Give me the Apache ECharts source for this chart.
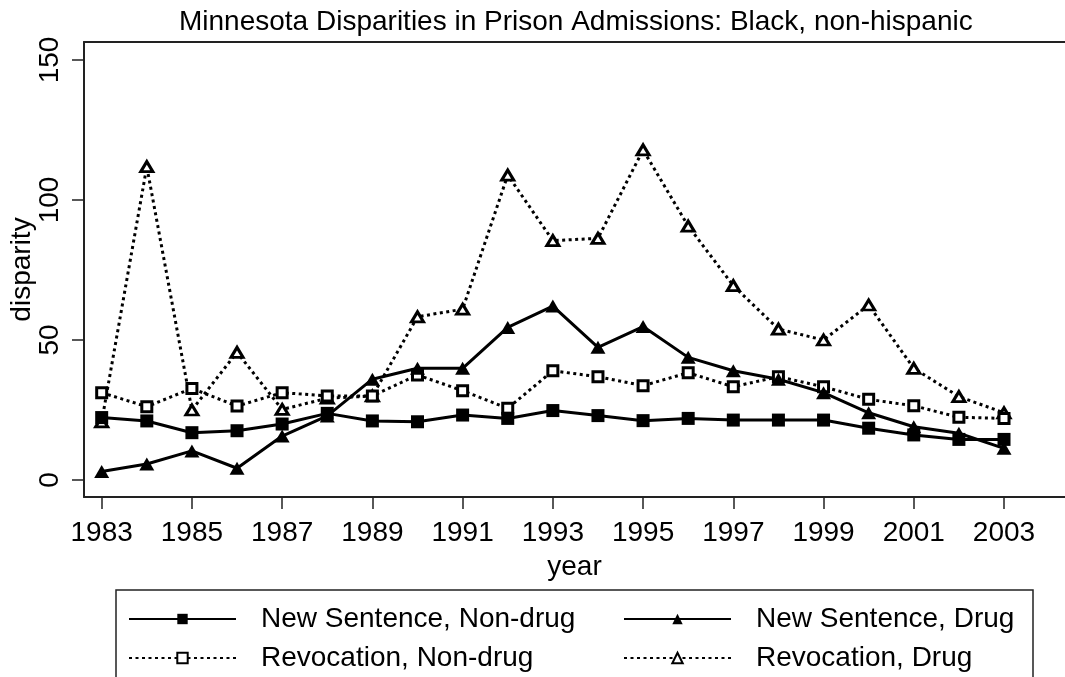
<!DOCTYPE html>
<html>
<head>
<meta charset="utf-8">
<script src="https://cdn.jsdelivr.net/npm/echarts@6/dist/echarts.min.js"></script>
<style>
  html, body { margin: 0; padding: 0; background: #fff; }
  #chart { width: 1065px; height: 677px; }
</style>
</head>
<body>
<div id="chart"></div>
<script>
  // data
  var years = [1983, 1984, 1985, 1986, 1987, 1988, 1989, 1990, 1991, 1992, 1993,
               1994, 1995, 1996, 1997, 1998, 1999, 2000, 2001, 2002, 2003];
  var newNonDrug = [22.3, 21.1, 16.9, 17.6, 20.0, 23.8, 21.1, 20.8, 23.2, 22.0, 24.8,
                    23.0, 21.2, 22.0, 21.4, 21.4, 21.4, 18.5, 16.1, 14.5, 14.5];
  var newDrug = [3.0, 5.7, 10.4, 4.2, 15.7, 22.9, 36.0, 39.9, 39.9, 54.5, 62.1,
                 47.4, 54.8, 43.8, 39.0, 36.0, 31.2, 24.0, 19.0, 16.7, 11.3];
  var revNonDrug = [31.2, 26.2, 32.7, 26.4, 31.2, 30.0, 30.0, 37.5, 31.9, 25.6, 39.0,
                    36.9, 33.7, 38.3, 33.3, 36.9, 33.3, 28.8, 26.5, 22.4, 22.0];
  var revDrug = [20.8, 111.9, 25.0, 45.6, 25.2, 29.2, 30.0, 58.3, 61.0, 108.9, 85.5,
                 86.3, 117.9, 90.7, 69.4, 53.9, 50.0, 62.5, 39.9, 29.8, 24.0];
  var xTicks = [1983, 1985, 1987, 1989, 1991, 1993, 1995, 1997, 1999, 2001, 2003];
  var yTicks = [0, 50, 100, 150];

  var FONT = 'Liberation Sans, Arial, sans-serif';

  function pairs(vals) {
    return years.map(function (y, i) { return [y, vals[i]]; });
  }

  var myChart = echarts.init(document.getElementById('chart'));

  var dotted = [3, 3.5];
  var legendText = { fontFamily: FONT, fontSize: 28, color: '#000', lineHeight: 30, padding: [0, 0, 0, 20] };

  myChart.setOption({
    animation: false,
    backgroundColor: '#fff',
    title: {
      text: 'Minnesota Disparities in Prison Admissions: Black, non-hispanic',
      left: 174,
      top: 3,
      textStyle: { fontFamily: FONT, fontSize: 28, fontWeight: 'normal', color: '#000' }
    },
    grid: { left: 84, top: 42, right: 0, bottom: 180, outerBoundsMode: 'none' },
    xAxis: [{
      type: 'value',
      min: 1982.608,
      max: 2004.352,
      name: 'year',
      nameLocation: 'middle',
      nameGap: 56,
      nameTextStyle: { fontFamily: FONT, fontSize: 28, color: '#000' },
      axisLine: { onZero: false, lineStyle: { color: '#222', width: 2 } },
      axisTick: { customValues: xTicks, length: 12, lineStyle: { color: '#222', width: 1.5 } },
      axisLabel: {
        customValues: xTicks, margin: 22, fontFamily: FONT, fontSize: 28, color: '#000',
        formatter: function (v) { return String(v); }
      },
      splitLine: { show: false }
    }, {
      // top frame line
      type: 'value',
      position: 'top',
      min: 1982.608,
      max: 2004.352,
      axisLine: { show: true, onZero: false, lineStyle: { color: '#222', width: 2 } },
      axisTick: { show: false },
      axisLabel: { show: false },
      splitLine: { show: false }
    }],
    yAxis: {
      type: 'value',
      min: -6.07,
      max: 156.43,
      name: 'disparity',
      nameLocation: 'middle',
      nameRotate: 90,
      nameGap: 48,
      nameMoveOverlap: false,
      nameTextStyle: { fontFamily: FONT, fontSize: 28, color: '#000' },
      axisLine: { show: true, onZero: false, lineStyle: { color: '#222', width: 2 } },
      axisTick: { customValues: yTicks, length: 12, lineStyle: { color: '#222', width: 1.5 } },
      axisLabel: { customValues: yTicks, rotate: 90, margin: 20, fontFamily: FONT, fontSize: 28, color: '#000' },
      splitLine: { show: false }
    },
    legend: [{
      orient: 'vertical',
      left: 128,
      top: 604,
      padding: 0,
      itemWidth: 107,
      itemHeight: 13,
      itemGap: 9,
      data: ['New Sentence, Non-drug', 'Revocation, Non-drug'],
      textStyle: legendText
    }, {
      orient: 'vertical',
      left: 623,
      top: 604,
      padding: 0,
      itemWidth: 107,
      itemHeight: 13,
      itemGap: 9,
      data: ['New Sentence, Drug', 'Revocation, Drug'],
      textStyle: legendText
    }],
    graphic: [{
      // legend box
      type: 'rect',
      shape: { x: 116, y: 590, width: 917, height: 120 },
      style: { fill: 'none', stroke: '#222', lineWidth: 1.5 },
      silent: true
    }],
    series: [{
      name: 'Revocation, Drug',
      type: 'line',
      data: pairs(revDrug),
      symbol: 'triangle',
      symbolSize: [12, 10],
      itemStyle: { color: '#fff', borderColor: '#000', borderWidth: 3 },
      lineStyle: { color: '#000', width: 3, type: dotted }
    }, {
      name: 'Revocation, Non-drug',
      type: 'line',
      data: pairs(revNonDrug),
      symbol: 'rect',
      symbolSize: 10,
      itemStyle: { color: '#fff', borderColor: '#000', borderWidth: 3 },
      lineStyle: { color: '#000', width: 3, type: dotted }
    }, {
      name: 'New Sentence, Drug',
      type: 'line',
      data: pairs(newDrug),
      symbol: 'triangle',
      symbolSize: [15, 13],
      itemStyle: { color: '#000' },
      lineStyle: { color: '#000', width: 3 }
    }, {
      name: 'New Sentence, Non-drug',
      type: 'line',
      data: pairs(newNonDrug),
      symbol: 'rect',
      symbolSize: 13,
      itemStyle: { color: '#000' },
      lineStyle: { color: '#000', width: 3 }
    }]
  });
</script>
</body>
</html>
